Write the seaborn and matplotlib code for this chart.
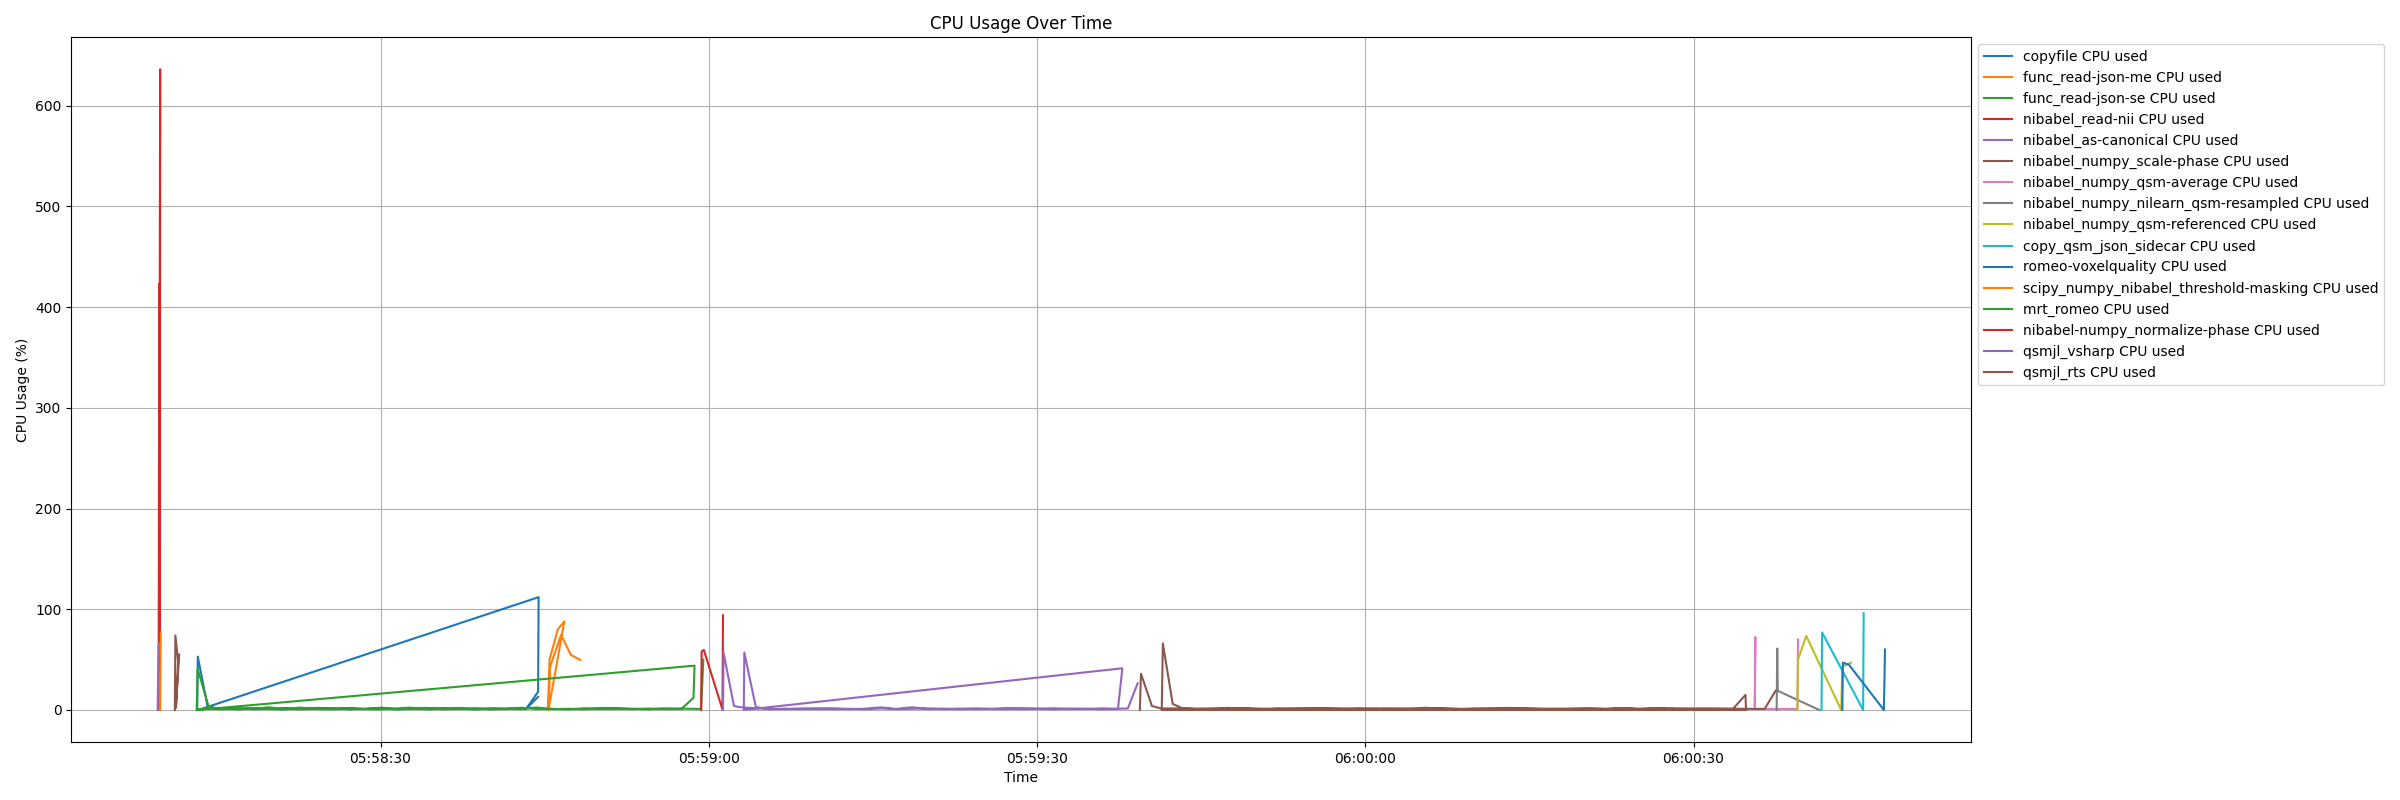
import pandas as pd
import numpy as np
import matplotlib
matplotlib.use("Agg")
import matplotlib.pyplot as plt
import matplotlib.dates as mdates
from matplotlib.lines import Line2D
import seaborn as sns

# -----------------------------
# data (seconds after 05:58:00, CPU %)
# -----------------------------
start = pd.Timestamp("2024-01-01 05:58:00")

processes = [
    "copyfile CPU used",
    "func_read-json-me CPU used",
    "func_read-json-se CPU used",
    "nibabel_read-nii CPU used",
    "nibabel_as-canonical CPU used",
    "nibabel_numpy_scale-phase CPU used",
    "nibabel_numpy_qsm-average CPU used",
    "nibabel_numpy_nilearn_qsm-resampled CPU used",
    "nibabel_numpy_qsm-referenced CPU used",
    "copy_qsm_json_sidecar CPU used",
    "romeo-voxelquality CPU used",
    "scipy_numpy_nibabel_threshold-masking CPU used",
    "mrt_romeo CPU used",
    "nibabel-numpy_normalize-phase CPU used",
    "qsmjl_vsharp CPU used",
    "qsmjl_rts CPU used",
]

# copyfile: two runs
copy_base_t = [15.6, 17.1, 18.5, 20.0, 21.4, 22.9, 24.3, 25.8, 27.2, 28.7, 30.1, 31.6,
               33.0, 34.5, 35.9, 37.4, 38.8, 40.3, 41.7]
copy_run1_t = [13.25, 13.3, 14.2] + copy_base_t + [43.3, 44.4, 44.45]
copy_run1_v = [0, 53, 3, 0.9, 1.6, 0.7, 1.3, 2.0, 0.8, 1.1, 1.8, 0.6, 1.2, 2.2, 0.9,
               1.4, 0.7, 1.9, 1.0, 1.5, 0.8, 1.2, 1, 18, 112]
copy_run2_t = [13.35, 14.3] + copy_base_t + [43.3, 44.4]
copy_run2_v = [0, 2, 1.4, 0.6, 1.8, 1.0, 0.7, 1.5, 2.1, 0.8, 1.3, 0.9, 1.6, 0.7, 1.1,
               2.0, 0.8, 1.4, 0.6, 1.7, 1.0, 1, 13]

# func_read-json-me: two runs
json_me_t = [45.3, 45.45, 46.2, 46.8, 45.35, 45.5, 46.5, 47.4, 48.25]
json_me_v = [0, 50, 80, 88, 0, 43, 74.5, 54.6, 49.7]

# func_read-json-se: two runs
json_se_base_t = [15.3, 16.8, 18.2, 19.7, 21.1, 22.6, 24.0, 25.5, 26.9, 28.4, 29.8, 31.3,
                  32.7, 34.2, 35.6, 37.1, 38.5, 40.0, 41.4, 42.9, 44.3, 45.8, 47.2, 48.7,
                  50.1, 51.6, 53.0, 54.5, 55.9]
json_se_run1_t = [13.2, 13.28, 14.3] + json_se_base_t + [57.5, 58.6, 58.7]
json_se_run1_v = [0, 41, 3, 1.2, 0.8, 1.9, 1.1, 0.6, 2.4, 1.0, 0.7, 1.5, 0.9, 1.8, 0.6,
                  1.2, 2.1, 0.8, 1.0, 1.6, 0.7, 1.3, 2.2, 0.9, 1.1, 0.6, 1.7, 1.0, 2.0,
                  0.8, 1.4, 0.9, 1, 12, 44]
json_se_run2_t = [13.25, 14.4] + json_se_base_t + [59.3]
json_se_run2_v = [0, 2, 0.6, 1.5, 0.9, 2.6, 1.2, 0.7, 1.6, 0.9, 2.0, 1.1, 0.6, 1.4, 2.3,
                  0.8, 1.0, 1.9, 0.7, 1.3, 0.9, 1.5, 2.4, 0.8, 1.2, 0.7, 1.8, 0.9, 1.3,
                  0.6, 1.6, 1]

read_nii_t = [9.72, 9.78, 9.76, 9.86, 9.84]
read_nii_v = [0, 423, 40, 636, 70]

canonical_t = [9.63, 9.72]
canonical_v = [0, 66]

scale_phase_t = [11.2, 11.25, 11.5, 11.3, 11.6]
scale_phase_v = [0, 74, 48, 2, 55]

qsm_average_t = [155.6, 155.65, 155.6, 157.5, 159.5, 159.55]
qsm_average_v = [1, 72, 1, 1, 1, 70]

qsm_resampled_t = [157.6, 157.65, 157.7, 161.5]
qsm_resampled_v = [0, 61, 19, 0]

qsm_referenced_t = [159.5, 159.55, 160.3, 163.5, 163.6, 164.4]
qsm_referenced_v = [0, 50, 73.5, 0, 43, 47]

sidecar_t = [161.7, 161.75, 165.5, 165.55]
sidecar_v = [0, 77, 0, 96]

voxelquality_t = [163.6, 163.65, 164.2, 167.4, 167.5]
voxelquality_v = [0, 47, 45, 0, 60]

masking_t = [9.86, 9.92]
masking_v = [0, 77]

mrt_romeo_t = [59.3, 59.5]
mrt_romeo_v = [0, 50]

normalize_t = [59.3, 59.35, 59.55, 61.25, 61.3]
normalize_v = [0, 58, 59.5, 0.5, 94]

# qsmjl_vsharp: two runs
vsharp_base_t = [65.5, 67.0, 68.4, 69.9, 71.3, 72.8, 74.2, 75.7, 77.1, 78.6, 80.0, 81.5,
                 82.9, 84.4, 85.8, 87.3, 88.7, 90.2, 91.6, 93.1, 94.5, 96.0]
vsharp_run1_t = [61.3, 61.35, 62.3, 63.0] + vsharp_base_t + [97.4, 97.8]
vsharp_run1_v = [0, 57, 4, 2.5, 1.1, 0.7, 1.5, 0.9, 1.8, 0.8, 1.2, 2.6, 1.0, 2.7, 0.9,
                 1.3, 0.7, 1.6, 1.0, 0.8, 1.9, 1.1, 0.7, 1.4, 1.0, 1.6, 1, 41.4]
vsharp_run2_t = [63.2, 63.25, 64.3] + vsharp_base_t + [98.3, 99.2]
vsharp_run2_v = [0, 57, 3, 0.6, 1.3, 0.9, 1.7, 0.8, 1.2, 0.7, 1.5, 0.9, 1.2, 1.6, 0.8,
                 1.4, 0.9, 1.1, 2.0, 0.8, 1.3, 1.7, 0.9, 1.2, 0.7, 1.5, 26.5]

# qsmjl_rts: two runs
rts_base_t = [104.5, 106.0, 107.5, 109.0, 110.5, 112.0, 113.5, 115.0, 116.5, 118.0,
              119.5, 121.0, 122.5, 124.0, 125.5, 127.0, 128.5, 130.0, 131.5, 133.0,
              134.5, 136.0, 137.5, 139.0, 140.5, 142.0, 143.5, 145.0, 146.5, 148.0,
              149.5, 151.0, 152.5]
rts_run1_t = [99.4, 99.5, 100.5, 101.3] + rts_base_t + [153.6, 154.75, 154.8]
rts_run1_v = [0, 36, 4, 1.5, 1.4, 0.9, 2.1, 1.2, 0.8, 1.7, 1.1, 2.0, 0.9, 1.3, 1.8, 0.8,
              1.5, 1.0, 2.2, 1.1, 0.7, 1.6, 1.2, 0.9, 1.9, 1.0, 1.4, 0.8, 1.7, 1.2, 2.0,
              0.9, 1.3, 1.8, 1.0, 1.5, 1.1, 1, 15, 0]
rts_run2_t = [101.4, 101.5, 102.4, 103.2] + rts_base_t + [156.5, 157.5]
rts_run2_v = [0, 66, 6, 2, 0.8, 1.6, 1.0, 1.8, 1.3, 0.7, 1.5, 0.9, 2.0, 1.1, 0.8, 1.7,
              1.0, 1.4, 0.9, 1.9, 1.2, 0.8, 1.5, 2.1, 1.0, 1.3, 0.7, 1.6, 1.1, 0.9, 1.5,
              1.2, 1.8, 0.8, 1.4, 1.0, 1.3, 1, 19]

series = {
    processes[0]: (copy_run1_t + copy_run2_t, copy_run1_v + copy_run2_v),
    processes[1]: (json_me_t, json_me_v),
    processes[2]: (json_se_run1_t + json_se_run2_t, json_se_run1_v + json_se_run2_v),
    processes[3]: (read_nii_t, read_nii_v),
    processes[4]: (canonical_t, canonical_v),
    processes[5]: (scale_phase_t, scale_phase_v),
    processes[6]: (qsm_average_t, qsm_average_v),
    processes[7]: (qsm_resampled_t, qsm_resampled_v),
    processes[8]: (qsm_referenced_t, qsm_referenced_v),
    processes[9]: (sidecar_t, sidecar_v),
    processes[10]: (voxelquality_t, voxelquality_v),
    processes[11]: (masking_t, masking_v),
    processes[12]: (mrt_romeo_t, mrt_romeo_v),
    processes[13]: (normalize_t, normalize_v),
    processes[14]: (vsharp_run1_t + vsharp_run2_t, vsharp_run1_v + vsharp_run2_v),
    processes[15]: (rts_run1_t + rts_run2_t, rts_run1_v + rts_run2_v),
}

frames = []
for name, (t, v) in series.items():
    frames.append(pd.DataFrame({
        "Time": start + pd.to_timedelta(t, unit="s"),
        "CPU": v,
        "Process": name,
    }))
df = pd.concat(frames, ignore_index=True)

# tab10 cycle, repeats after 10 entries like plain matplotlib
tab10 = sns.color_palette("tab10", 10)
colors = [tab10[i % 10] for i in range(len(processes))]

# -----------------------------
# plot
# -----------------------------
fig, ax = plt.subplots(figsize=(24, 8), dpi=100)
sns.lineplot(
    data=df,
    x="Time",
    y="CPU",
    hue="Process",
    hue_order=processes,
    palette=colors,
    estimator=None,
    sort=False,
    legend=False,
    linewidth=1.5,
    ax=ax,
)

ax.xaxis.set_major_locator(mdates.SecondLocator(bysecond=[0, 30]))
ax.xaxis.set_major_formatter(mdates.DateFormatter("%H:%M:%S"))
ax.grid(True)
ax.set_title("CPU Usage Over Time")
ax.set_xlabel("Time")
ax.set_ylabel("CPU Usage (%)")

handles = [Line2D([], [], color=c, linewidth=1.5, label=n) for n, c in zip(processes, colors)]
ax.legend(handles=handles, loc="upper left", bbox_to_anchor=(1, 1))

plt.subplots_adjust(left=0.0297, right=0.8214, top=0.9534, bottom=0.0725)
plt.savefig("out.png", dpi=100)
